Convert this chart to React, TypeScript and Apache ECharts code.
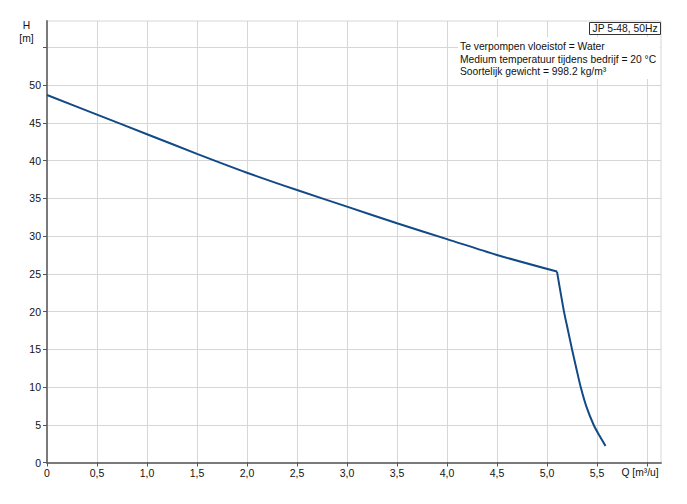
import React, { useEffect, useRef } from "react";
import * as echarts from "echarts";

const upperQ = [0, 0.5, 1.0, 1.5, 2.0, 2.5, 3.0, 3.5, 4.0, 4.5, 5.1];
const upperH = [48.7, 46.1, 43.5, 40.9, 38.4, 36.1, 33.9, 31.7, 29.6, 27.5, 25.3];
const steepQ = [5.1, 5.17, 5.21, 5.25, 5.293, 5.337, 5.394, 5.466, 5.527, 5.585];
const steepH = [25.3, 20.0, 17.5, 15.0, 12.5, 10.0, 7.4, 5.0, 3.5, 2.2];

const xTicks = [0, 0.5, 1.0, 1.5, 2.0, 2.5, 3.0, 3.5, 4.0, 4.5, 5.0, 5.5, 6.0];
const xLabels = [0, 0.5, 1.0, 1.5, 2.0, 2.5, 3.0, 3.5, 4.0, 4.5, 5.0, 5.5];
const yTicks = [0, 5, 10, 15, 20, 25, 30, 35, 40, 45, 50, 55];
const yLabels = [0, 5, 10, 15, 20, 25, 30, 35, 40, 45, 50];

const titleBox = "JP 5-48, 50Hz";
const infoLines = [
  "Te verpompen vloeistof = Water",
  "Medium temperatuur tijdens bedrijf = 20 °C",
  "Soortelijk gewicht = 998.2 kg/m³",
];
const xName = "Q [m³/u]";
const yName = "H\n[m]";

const FONT = "Liberation Sans, Arial, sans-serif";
const SMALL = `10.3px ${FONT}`;

export default function App() {
  const ref = useRef<HTMLDivElement>(null);
  useEffect(() => {
    if (!ref.current) return;
    const chart = echarts.init(ref.current, null, { renderer: "svg" });
    const gridColor = "#d6d6d6";
    const curve = { color: "#124a86", width: 2 };
    chart.setOption({
      animation: false,
      backgroundColor: "#ffffff",
      textStyle: { fontFamily: FONT },
      grid: {
        left: 47,
        right: 26,
        top: 21,
        bottom: 41.5,
        show: true,
        borderColor: gridColor,
        borderWidth: 1,
        backgroundColor: "transparent",
      },
      xAxis: {
        type: "value",
        min: 0,
        max: 6.14,
        interval: 0.5,
        axisLine: { show: true, onZero: false, lineStyle: { color: "#7a7a7a", width: 2 } },
        axisTick: { show: true, length: 4, customValues: xTicks, lineStyle: { color: "#555", width: 1 } },
        axisLabel: {
          customValues: xLabels,
          color: "#111",
          fontSize: 10.5,
          fontFamily: FONT,
          margin: 5,
          formatter: (v: number) => (v === 0 ? "0" : v.toFixed(1).replace(".", ",")),
        },
        splitLine: { show: true, lineStyle: { color: gridColor, width: 1 } },
      },
      yAxis: {
        type: "value",
        min: 0,
        max: 58.5,
        interval: 5,
        axisLine: { show: true, onZero: false, lineStyle: { color: "#7a7a7a", width: 2 } },
        axisTick: { show: true, length: 4, customValues: yTicks, lineStyle: { color: "#555", width: 1 } },
        axisLabel: {
          customValues: yLabels,
          color: "#111",
          fontSize: 10.5,
          fontFamily: FONT,
          margin: 6,
          formatter: (v: number) => String(v),
        },
        splitLine: { show: true, lineStyle: { color: gridColor, width: 1 } },
      },
      series: [
        {
          type: "line",
          data: upperQ.map((q, i) => [q, upperH[i]]),
          showSymbol: false,
          symbol: "none",
          smooth: 0.3,
          lineStyle: curve,
          z: 3,
        },
        {
          type: "line",
          data: steepQ.map((q, i) => [q, steepH[i]]),
          showSymbol: false,
          symbol: "none",
          smooth: 0.3,
          lineStyle: curve,
          z: 3,
        },
      ],
      graphic: [
        {
          type: "rect",
          shape: { x: 458, y: 37, width: 202, height: 42 },
          style: { fill: "#ffffff" },
          z: 10,
        },
        {
          type: "rect",
          shape: { x: 589.5, y: 22.5, width: 71, height: 12 },
          style: { fill: "#ffffff", stroke: "#333", lineWidth: 1 },
          z: 10,
        },
        {
          type: "text",
          x: 592.5,
          y: 28.7,
          style: { text: titleBox, fill: "#111", font: SMALL, textVerticalAlign: "middle" },
          z: 11,
        },
        ...infoLines.map((t, i) => ({
          type: "text",
          x: 460,
          y: 46.7 + i * 12.4,
          style: { text: t, fill: "#111", font: SMALL, textVerticalAlign: "middle" },
          z: 11,
        })),
        {
          type: "text",
          x: 26.5,
          y: 31.5,
          style: {
            text: yName,
            fill: "#111",
            font: SMALL,
            textAlign: "center",
            textVerticalAlign: "middle",
            lineHeight: 13,
          },
          z: 11,
        },
        {
          type: "text",
          x: 621.5,
          y: 472,
          style: { text: xName, fill: "#111", font: SMALL, textVerticalAlign: "middle" },
          z: 11,
        },
      ],
    });
    return () => chart.dispose();
  }, []);
  return (
    <div
      ref={ref}
      style={{ position: "absolute", left: 0, top: 0, width: 687, height: 504, background: "#fff" }}
    />
  );
}
